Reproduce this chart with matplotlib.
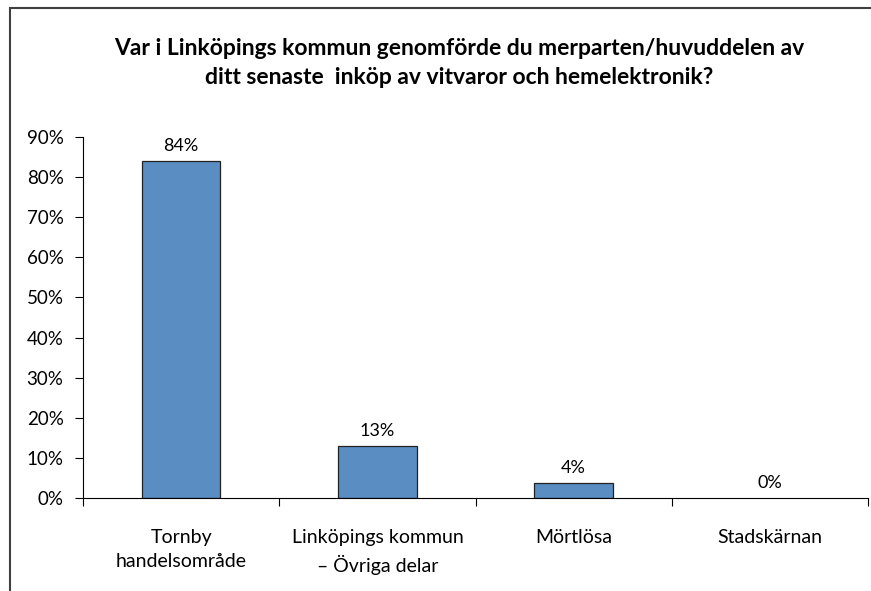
import matplotlib
matplotlib.use("Agg")
import matplotlib.pyplot as plt
from matplotlib.patches import Rectangle

# survey answers, share of respondents
categories = ["Tornby\nhandelsområde", "Linköpings kommun\n– Övriga delar",
              "Mörtlösa", "Stadskärnan"]
shares = [0.84, 0.13, 0.037, 0.0]
value_labels = ["84%", "13%", "4%", "0%"]
yticks = [0.0, 0.1, 0.2, 0.3, 0.4, 0.5, 0.6, 0.7, 0.8, 0.9]
ytick_labels = [f"{int(round(t * 100))}%" for t in yticks]

title = ("Var i Linköpings kommun genomförde du merparten/huvuddelen av\n"
         "ditt senaste  inköp av vitvaror och hemelektronik?")

plt.rcParams['font.family'] = ['Lato', 'DejaVu Sans']

fig = plt.figure(figsize=(8.71, 5.91), dpi=100)

# chart frame (only top and left edges are visible in the crop)
fig.patches.append(Rectangle((10 / 871, -0.1), 1.2, 1 - 8 / 591 + 0.1,
                             transform=fig.transFigure, fill=False,
                             edgecolor='#404040', lw=1.5))

ax = fig.add_axes([83 / 871, 93 / 591, 785 / 871, 361 / 591])
x = range(len(categories))
bars = ax.bar(x, shares, width=0.4, color='#5A8DC2', edgecolor='#222222', lw=0.9)
for b, v in zip(bars, shares):
    if v == 0:
        b.set_linewidth(0)
for xi, v, lab in zip(x, shares, value_labels):
    ax.annotate(lab, (xi, v), xytext=(0, 5), textcoords='offset points',
                ha='center', va='bottom', fontsize=13)

ax.set_xlim(-0.5, len(categories) - 0.5)
ax.set_ylim(0, 0.9)
ax.set_yticks(yticks)
ax.set_yticklabels(ytick_labels, fontsize=13.5)
ax.set_xticks([i - 0.5 for i in range(len(categories) + 1)])
ax.set_xticklabels([])
ax.set_xticks(list(x), minor=True)
ax.set_xticklabels(categories, minor=True, fontsize=14, linespacing=1.55)
ax.tick_params(axis='x', which='major', length=6, width=0.8)
ax.tick_params(axis='x', which='minor', length=0, pad=22)
ax.tick_params(axis='y', length=6, width=0.8, pad=8)
ax.spines['top'].set_visible(False)
ax.spines['right'].set_visible(False)
ax.spines['left'].set_linewidth(0.8)
ax.spines['bottom'].set_linewidth(0.8)

fig.text(459 / 871, 1 - 63 / 591, title, ha='center', va='center',
         fontsize=16.5, fontweight='bold', linespacing=1.5)

fig.savefig('out.png', dpi=100)
